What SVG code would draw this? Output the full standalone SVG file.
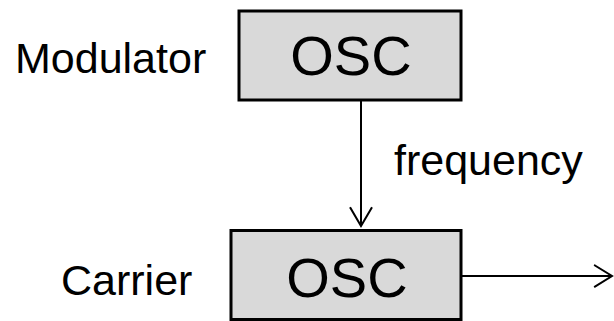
<svg xmlns="http://www.w3.org/2000/svg" width="614" height="321" viewBox="0 0 614 321">
  <defs>
    <style>
      .box { fill: #d9d9d9; stroke: #000; stroke-width: 3; }
      .lbl { font-family: "Liberation Sans", Arial, sans-serif; fill: #000; }
      .osc { font-size: 56px; text-anchor: middle; }
      .side { font-size: 43px; }
      .wire { stroke: #000; stroke-width: 2; fill: none; }
      .head { stroke: #000; stroke-width: 2; fill: none; stroke-linecap: square; }
    </style>
  </defs>
  <rect width="614" height="321" fill="#fff"/>

  <!-- modulator oscillator -->
  <g id="modulator">
    <rect class="box" x="239" y="11" width="222" height="89"/>
    <text class="lbl osc" x="351" y="75">OSC</text>
    <text class="lbl side" x="15" y="73">Modulator</text>
  </g>

  <!-- carrier oscillator -->
  <g id="carrier">
    <rect class="box" x="231" y="230.5" width="230" height="89"/>
    <text class="lbl osc" x="347" y="296.5">OSC</text>
    <text class="lbl side" x="61" y="295">Carrier</text>
  </g>

  <!-- connectors -->
  <g id="connectors">
    <line class="wire" x1="361" y1="100" x2="361" y2="226"/>
    <polyline class="head" points="350.5,208 361,226 371.5,208"/>
    <line class="wire" x1="462" y1="276" x2="612" y2="276"/>
    <polyline class="head" points="595,265.5 612,276 595,286.5"/>
    <text class="lbl side" x="394" y="175">frequency</text>
  </g>
</svg>
